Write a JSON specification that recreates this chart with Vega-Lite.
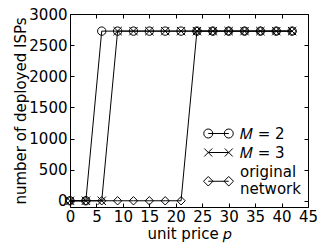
{
  "$schema": "https://vega.github.io/schema/vega-lite/v6.json",
  "width": 238,
  "height": 193,
  "autosize": {"type": "none"},
  "padding": {"left": 70, "top": 14, "right": 9, "bottom": 39},
  "background": "white",
  "config": {
    "view": {"stroke": null},
    "font": "DejaVu Sans",
    "axis": {
      "grid": false,
      "domainColor": "black",
      "domainWidth": 1,
      "tickColor": "black",
      "tickWidth": 1,
      "tickSize": -4,
      "labelFont": "DejaVu Sans",
      "labelFontSize": 15,
      "labelColor": "black",
      "labelOverlap": false,
      "labelFlush": false,
      "labelBound": false,
      "format": "d",
      "titleFont": "DejaVu Sans",
      "titleFontSize": 15,
      "titleFontWeight": "normal",
      "titleColor": "black"
    }
  },
  "data": {
    "values": [
      {"p": 0, "n": 0, "s": "𝑀 = 2"},
      {"p": 3, "n": 0, "s": "𝑀 = 2"},
      {"p": 6, "n": 2725, "s": "𝑀 = 2"},
      {"p": 9, "n": 2725, "s": "𝑀 = 2"},
      {"p": 12, "n": 2725, "s": "𝑀 = 2"},
      {"p": 15, "n": 2725, "s": "𝑀 = 2"},
      {"p": 18, "n": 2725, "s": "𝑀 = 2"},
      {"p": 21, "n": 2725, "s": "𝑀 = 2"},
      {"p": 24, "n": 2725, "s": "𝑀 = 2"},
      {"p": 27, "n": 2725, "s": "𝑀 = 2"},
      {"p": 30, "n": 2725, "s": "𝑀 = 2"},
      {"p": 33, "n": 2725, "s": "𝑀 = 2"},
      {"p": 36, "n": 2725, "s": "𝑀 = 2"},
      {"p": 39, "n": 2725, "s": "𝑀 = 2"},
      {"p": 42, "n": 2725, "s": "𝑀 = 2"},
      {"p": 0, "n": 0, "s": "𝑀 = 3"},
      {"p": 3, "n": 0, "s": "𝑀 = 3"},
      {"p": 6, "n": 0, "s": "𝑀 = 3"},
      {"p": 9, "n": 2725, "s": "𝑀 = 3"},
      {"p": 12, "n": 2725, "s": "𝑀 = 3"},
      {"p": 15, "n": 2725, "s": "𝑀 = 3"},
      {"p": 18, "n": 2725, "s": "𝑀 = 3"},
      {"p": 21, "n": 2725, "s": "𝑀 = 3"},
      {"p": 24, "n": 2725, "s": "𝑀 = 3"},
      {"p": 27, "n": 2725, "s": "𝑀 = 3"},
      {"p": 30, "n": 2725, "s": "𝑀 = 3"},
      {"p": 33, "n": 2725, "s": "𝑀 = 3"},
      {"p": 36, "n": 2725, "s": "𝑀 = 3"},
      {"p": 39, "n": 2725, "s": "𝑀 = 3"},
      {"p": 42, "n": 2725, "s": "𝑀 = 3"},
      {"p": 0, "n": 0, "s": "original network"},
      {"p": 3, "n": 0, "s": "original network"},
      {"p": 6, "n": 0, "s": "original network"},
      {"p": 9, "n": 0, "s": "original network"},
      {"p": 12, "n": 0, "s": "original network"},
      {"p": 15, "n": 0, "s": "original network"},
      {"p": 18, "n": 0, "s": "original network"},
      {"p": 21, "n": 0, "s": "original network"},
      {"p": 24, "n": 2725, "s": "original network"},
      {"p": 27, "n": 2725, "s": "original network"},
      {"p": 30, "n": 2725, "s": "original network"},
      {"p": 33, "n": 2725, "s": "original network"},
      {"p": 36, "n": 2725, "s": "original network"},
      {"p": 39, "n": 2725, "s": "original network"},
      {"p": 42, "n": 2725, "s": "original network"}
    ]
  },
  "layer": [
    {
      "mark": {"type": "line", "color": "black", "strokeWidth": 1, "clip": false},
      "encoding": {
        "x": {"field": "p", "type": "quantitative", "scale": {"domain": [0, 45], "nice": false},
              "axis": {"values": [0,5,10,15,20,25,30,35,40,45], "title": "unit price 𝑝", "labelPadding": 6, "titlePadding": 2}},
        "y": {"field": "n", "type": "quantitative", "scale": {"domain": [-100, 3000], "nice": false, "zero": false},
              "axis": {"values": [0,500,1000,1500,2000,2500,3000], "title": "number of deployed ISPs", "labelPadding": 7, "titlePadding": 0}},
        "detail": {"field": "s"}
      }
    },
    {
      "mark": {"type": "point", "filled": false, "stroke": "black", "strokeWidth": 1, "opacity": 1, "clip": false},
      "encoding": {
        "x": {"field": "p", "type": "quantitative", "axis": {"orient": "top", "labels": false, "title": null, "values": [0,5,10,15,20,25,30,35,40,45]}},
        "y": {"field": "n", "type": "quantitative", "axis": {"orient": "right", "labels": false, "title": null, "values": [0,500,1000,1500,2000,2500,3000]}},
        "shape": {"field": "s", "type": "nominal",
                  "scale": {"domain": ["𝑀 = 2", "𝑀 = 3", "original network"],
                            "range": ["circle", "M-1,-1L1,1M-1,1L1,-1", "diamond"]},
                  "legend": null},
        "size": {"value": 70}
      }
    },
    {
      "mark": {"type": "point", "filled": false, "opacity": 0, "clip": false},
      "encoding": {
        "x": {"field": "p", "type": "quantitative", "axis": null},
        "y": {"field": "n", "type": "quantitative", "axis": null},
        "shape": {"field": "s", "type": "nominal",
                  "scale": {"domain": ["𝑀 = 2", "𝑀 = 3", "original network"],
                            "range": [
                              "M-1.366,0L1.366,0M-0.766,0A0.6,0.6 0 1 1 -1.966,0A0.6,0.6 0 1 1 -0.766,0ZM1.966,0A0.6,0.6 0 1 1 0.766,0A0.6,0.6 0 1 1 1.966,0Z",
                              "M-1.366,0L1.366,0M-1.9,-0.534L-0.834,0.534M-1.9,0.534L-0.834,-0.534M0.834,-0.534L1.9,0.534M0.834,0.534L1.9,-0.534",
                              "M-1.366,1.3L1.366,1.3M-2.0,1.3L-1.366,0.666L-0.732,1.3L-1.366,1.934ZM0.732,1.3L1.366,0.666L2.0,1.3L1.366,1.934Z"
                            ]},
                  "legend": {
                    "title": null,
                    "orient": "none",
                    "legendX": 140.5,
                    "legendY": 111.5,
                    "symbolSize": 225,
                    "symbolStrokeColor": "black",
                    "symbolFillColor": "transparent",
                    "symbolStrokeWidth": 1,
                    "symbolOpacity": 1,
                    "labelFont": "DejaVu Sans",
                    "labelFontSize": 15,
                    "labelColor": "black",
                    "labelLimit": 200,
                    "labelExpr": "datum.label == 'original network' ? ['original', 'network'] : datum.label",
                    "rowPadding": 3,
                    "labelOffset": 13.5
                  }},
        "size": {"value": 225}
      }
    }
  ],
  "resolve": {"axis": {"x": "independent", "y": "independent"}, "scale": {"shape": "independent"}}
}
